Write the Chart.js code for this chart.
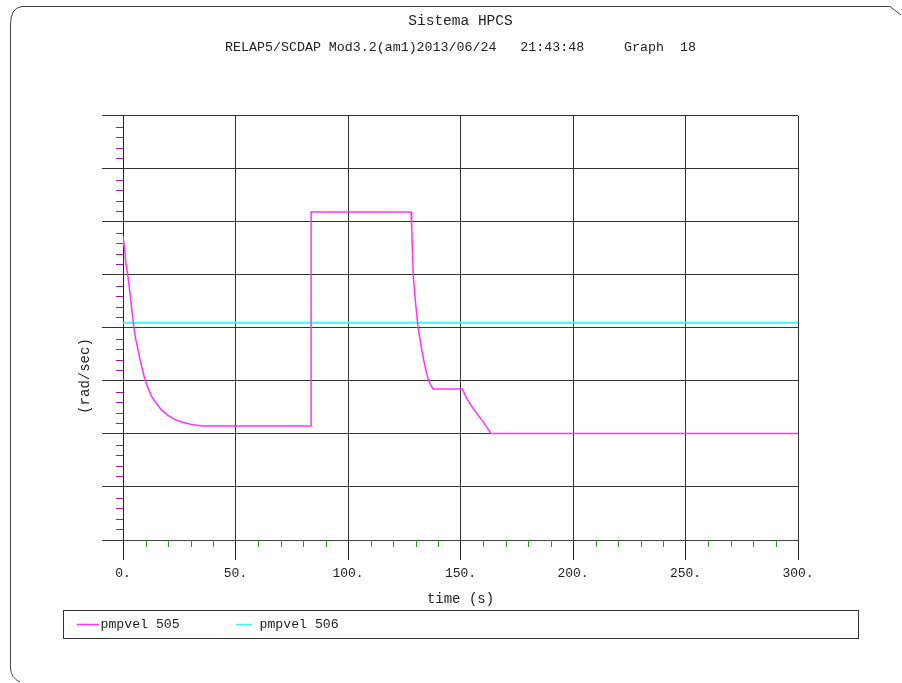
<!DOCTYPE html>
<html>
<head>
<meta charset="utf-8">
<script src="https://cdn.jsdelivr.net/npm/chart.js@4/dist/chart.umd.min.js"></script>
<style>
html,body{margin:0;padding:0;background:#fff;}
#wrap{width:902px;height:683px;position:relative;}
</style>
</head>
<body>
<div id="wrap"><canvas id="c"></canvas></div>
<script>
// ---- data ----
const chartTitle = 'Sistema HPCS';
const chartSubtitle = 'RELAP5/SCDAP Mod3.2(am1)2013/06/24   21:43:48     Graph  18';
const xAxisTitle = 'time (s)';
const yAxisTitle = '(rad/sec)';
const seriesNames = ['pmpvel 505', 'pmpvel 506'];
const seriesColors = ['#ff33ff', '#40f4f4'];

const time505 = [0, 0.7, 1.3, 2.1, 2.7, 3.3, 4.1, 4.9, 5.6, 6.4, 7.2, 8.0, 8.9, 9.8, 11.2, 12.7,
                 14.8, 17.2, 20.0, 23.1, 26.5, 30.5, 35.0,
                 83.6, 83.6, 128.0, 128.3, 129.0, 129.9, 131.1, 132.8, 134.2, 135.7, 136.8, 137.9,
                 150.8, 153.2, 155.2, 157.2, 160.6, 163.5, 300];
const vel505  = [5.73, 5.49, 5.22, 5.00, 4.80, 4.59, 4.28, 3.99, 3.80, 3.65, 3.48, 3.33, 3.17, 3.02, 2.86, 2.71,
                 2.58, 2.45, 2.35, 2.27, 2.22, 2.18, 2.15,
                 2.15, 6.19, 6.19, 5.91, 5.00, 4.53, 4.02, 3.58, 3.28, 3.02, 2.92, 2.85,
                 2.85, 2.64, 2.51, 2.39, 2.20, 2.01, 2.01];
const time506 = [0, 300];
const vel506  = [4.10, 4.10];

const xMin = 0, xMax = 300, xMajorStep = 50, xMinorStep = 10;
const yMin = 0, yMax = 8, yMajorStep = 1, yMinorPerMajor = 5;

const FONT = 'Liberation Mono';
const TEXT = '#222';

const decor = {
  id: 'decor',
  beforeDraw(chart) {
    const ctx = chart.ctx;
    ctx.save();
    ctx.fillStyle = '#fff';
    ctx.fillRect(0, 0, chart.width, chart.height);
    ctx.strokeStyle = '#444';
    ctx.lineWidth = 1;
    ctx.beginPath();
    ctx.moveTo(10.5, 668);
    ctx.lineTo(10.5, 24);
    ctx.quadraticCurveTo(10.5, 8, 22, 6.5);
    ctx.lineTo(890, 6.5);
    ctx.lineTo(901, 15);
    ctx.moveTo(10.5, 668);
    ctx.quadraticCurveTo(11, 678, 20, 682);
    ctx.stroke();
    ctx.restore();
  },
  afterDraw(chart) {
    const ctx = chart.ctx;
    const xs = chart.scales.x, ys = chart.scales.y;
    const area = chart.chartArea;
    ctx.save();
    // minor y ticks (magenta), left of the axis
    ctx.strokeStyle = '#a01fa0';
    ctx.lineWidth = 1;
    ctx.beginPath();
    const nY = Math.round((yMax - yMin) / yMajorStep * yMinorPerMajor);
    for (let i = 0; i <= nY; i++) {
      if (i % yMinorPerMajor === 0) continue;
      const py = Math.round(ys.getPixelForValue(yMin + i * yMajorStep / yMinorPerMajor)) + 0.5;
      ctx.moveTo(area.left - 7, py);
      ctx.lineTo(area.left, py);
    }
    ctx.stroke();
    // minor x ticks (green), below the axis
    ctx.strokeStyle = '#2a9a2a';
    ctx.beginPath();
    for (let v = xMin; v <= xMax; v += xMinorStep) {
      if (v % xMajorStep === 0) continue;
      const px = Math.round(xs.getPixelForValue(v)) + 0.5;
      ctx.moveTo(px, area.bottom);
      ctx.lineTo(px, area.bottom + 7);
    }
    ctx.stroke();
    // y axis title
    ctx.fillStyle = TEXT;
    ctx.font = '14px "' + FONT + '"';
    ctx.textAlign = 'center';
    ctx.textBaseline = 'middle';
    ctx.translate(85, 376);
    ctx.rotate(-Math.PI / 2);
    ctx.fillText(yAxisTitle, 0, 0);
    ctx.restore();

    // legend box
    ctx.save();
    ctx.strokeStyle = '#333';
    ctx.lineWidth = 1;
    ctx.strokeRect(63.5, 610.5, 795, 28);
    const items = [
      {x0: 77, x1: 99, tx: 100.5},
      {x0: 236, x1: 252, tx: 259.5}
    ];
    ctx.font = '13.2px "' + FONT + '"';
    ctx.textAlign = 'left';
    ctx.textBaseline = 'middle';
    chart.data.datasets.forEach((ds, i) => {
      const it = items[i];
      ctx.strokeStyle = ds.borderColor;
      ctx.lineWidth = 1.5;
      ctx.beginPath();
      ctx.moveTo(it.x0, 624.5);
      ctx.lineTo(it.x1, 624.5);
      ctx.stroke();
      ctx.fillStyle = TEXT;
      ctx.fillText(ds.label, it.tx, 624.5);
    });
    ctx.restore();
  }
};

new Chart(document.getElementById('c'), {
  type: 'line',
  data: {
    datasets: [
      {
        label: seriesNames[0],
        data: time505.map((t, i) => ({x: t, y: vel505[i]})),
        borderColor: seriesColors[0],
        backgroundColor: seriesColors[0],
        borderWidth: 1.5,
        pointRadius: 0,
        tension: 0,
        fill: false
      },
      {
        label: seriesNames[1],
        data: time506.map((t, i) => ({x: t, y: vel506[i]})),
        borderColor: seriesColors[1],
        backgroundColor: seriesColors[1],
        borderWidth: 2,
        pointRadius: 0,
        tension: 0,
        fill: false
      }
    ]
  },
  options: {
    responsive: true,
    maintainAspectRatio: false,
    animation: false,
    events: [],
    layout: {padding: {left: 0, right: 104, top: 0, bottom: 73}},
    plugins: {
      legend: {display: false},
      tooltip: {enabled: false},
      title: {
        display: true, text: chartTitle, color: TEXT, fullSize: false,
        font: {family: FONT, size: 14.5, weight: 'normal'},
        padding: {top: 12.3, bottom: 0}
      },
      subtitle: {
        display: true, text: chartSubtitle, color: TEXT, fullSize: false,
        font: {family: FONT, size: 13.3, weight: 'normal'},
        padding: {top: 9.4, bottom: 60.9}
      }
    },
    scales: {
      x: {
        type: 'linear', min: xMin, max: xMax,
        ticks: {
          stepSize: xMajorStep, autoSkip: false, maxRotation: 0,
          callback: v => v + '.',
          font: {family: FONT, size: 13}, color: TEXT, padding: 6.2
        },
        grid: {color: '#333', lineWidth: 1, tickLength: 20, tickColor: '#222'},
        border: {color: '#444'},
        title: {
          display: true, text: xAxisTitle, color: TEXT,
          font: {family: FONT, size: 14}, padding: {top: 0, bottom: 2.6}
        },
        afterFit: s => { s.height = 70; }
      },
      y: {
        type: 'linear', min: yMin, max: yMax,
        ticks: {stepSize: yMajorStep, display: false},
        grid: {color: '#333', lineWidth: 1, tickLength: 21, tickColor: '#333'},
        border: {color: '#222'},
        afterFit: s => { s.width = 123; }
      }
    }
  },
  plugins: [decor]
});
</script>
</body>
</html>
